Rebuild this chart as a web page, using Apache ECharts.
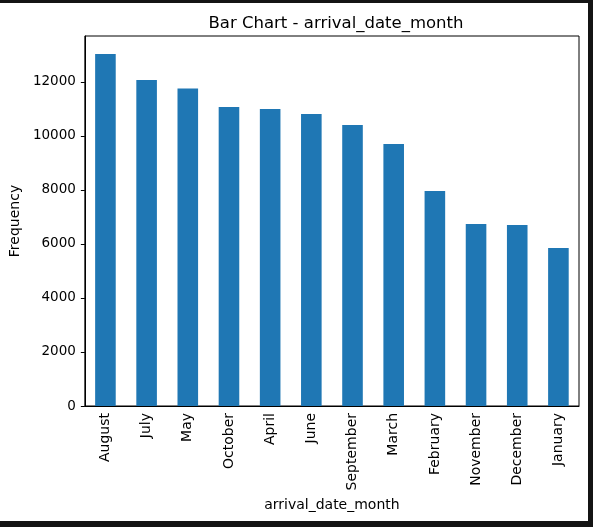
<!DOCTYPE html>
<html>
<head>
<meta charset="utf-8">
<script src="https://cdn.jsdelivr.net/npm/echarts@6/dist/echarts.min.js"></script>
<style>
html, body { margin: 0; padding: 0; background: #141414; }
#container {
    width: 588px; height: 518px;
    margin-top: 3px;
    background: #fff;
}
</style>
</head>
<body>
<div id="container"></div>
<script>
var months = ['August', 'July', 'May', 'October', 'April', 'June', 'September', 'March', 'February', 'November', 'December', 'January'];
var counts = [13037, 12074, 11753, 11074, 11000, 10815, 10400, 9704, 7963, 6741, 6704, 5852];
var yTicks = [0, 2000, 4000, 6000, 8000, 10000, 12000];

var dom = document.getElementById("container");
var myChart = echarts.init(dom);
var font = 'DejaVu Sans';

var option = {
    animation: false,
    title: {
        text: 'Bar Chart - arrival_date_month',
        left: 331,
        textAlign: 'center',
        top: 7,
        textStyle: { fontFamily: font, fontSize: 16.5, fontWeight: 'normal', color: '#000' }
    },
    grid: {
        left: 83, right: 9, top: 33, bottom: 115,
        show: true, borderColor: '#000', borderWidth: 1, backgroundColor: '#fff'
    },
    xAxis: {
        type: 'category',
        data: months,
        name: 'arrival_date_month',
        nameLocation: 'middle',
        nameGap: 89,
        nameTextStyle: { fontFamily: font, fontSize: 14, color: '#000' },
        axisLine: { lineStyle: { color: '#000', width: 1 } },
        axisTick: { alignWithLabel: true, length: 4, lineStyle: { color: '#000' } },
        axisLabel: { rotate: 90, margin: 7, interval: 0, fontFamily: font, fontSize: 14, color: '#000' }
    },
    yAxis: {
        type: 'value',
        min: 0,
        max: 13700,
        interval: 2000,
        name: 'Frequency',
        nameLocation: 'middle',
        nameGap: 58,
        nameTextStyle: { fontFamily: font, fontSize: 14, color: '#000' },
        splitLine: { show: false },
        axisLine: { show: true, lineStyle: { color: '#000', width: 1 } },
        axisTick: { show: true, length: 4, lineStyle: { color: '#000' } },
        axisLabel: {
            margin: 9, fontFamily: font, fontSize: 13.5, color: '#000',
            showMaxLabel: false,
            formatter: function (v) { return yTicks.indexOf(v) >= 0 ? String(v) : ''; }
        }
    },
    series: [{
        type: 'bar',
        data: counts,
        barCategoryGap: '50%',
        itemStyle: { color: '#1f77b4' }
    }]
};

if (option && typeof option === "object") {
    myChart.setOption(option, true);
}
</script>
</body>
</html>
